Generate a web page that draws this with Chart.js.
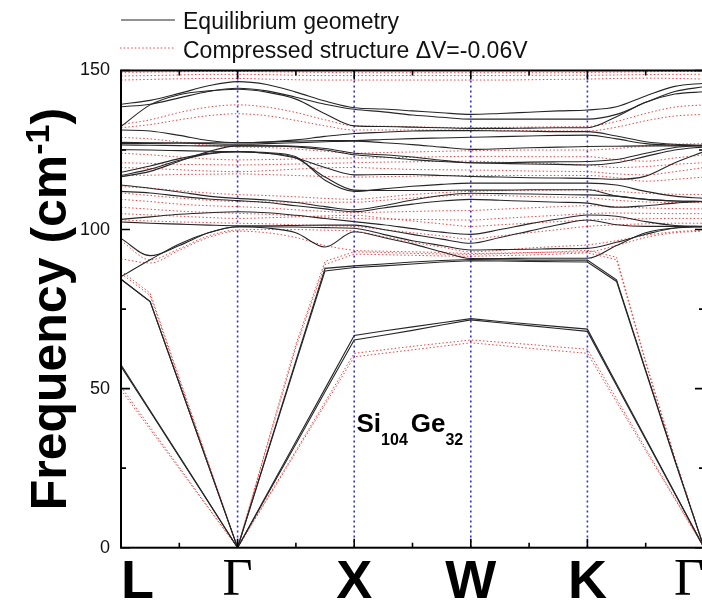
<!DOCTYPE html>
<html>
<head>
<meta charset="utf-8">
<script src="https://cdn.jsdelivr.net/npm/chart.js@4.4.1/dist/chart.umd.min.js"></script>
<style>
  html, body { margin: 0; padding: 0; background: #fff; overflow: hidden; }
  #wrap { width: 712px; height: 603px; }
</style>
</head>
<body>
<div id="wrap"><canvas id="bands" width="712" height="603"></canvas></div>
<script>
// k-path position of every sample (L=0, Γ=1, X=2, W=3, K=4, Γ=5)
const kPath = [0, 0.25, 0.5, 0.75, 1, 1.25, 1.5, 1.75, 2, 2.25, 2.5, 2.75, 3, 3.25, 3.5, 3.75, 4, 4.25, 4.5, 4.75, 5];
const pointLabels = ['L', 'Γ', 'X', 'W', 'K', 'Γ'];
const legendLabels = ['Equilibrium geometry', 'Compressed structure ΔV=-0.06V'];

// equilibrium geometry, optical branches (cm-1)
const eqOptical = [
  [139.4,140.6,142.8,145.2, 146.5,145.6,143.2,140.4, 138.3,137.9,137.3,136.7, 136.2,136.5,136.9,137.3, 137.6,138.6,142,145, 146],
  [138.6,139.4,141.4,143.4, 144.4,143.6,141.6,139.4, 137.8,137,136,135.3, 134.7,134.7,134.7,134.7, 134.7,136.2,140,143.4, 144.9],
  [132.4,139.2,142.4,143.6, 144.1,143.2,141,136.4, 132.6,132.4,132.2,132, 131.8,131.8,131.9,132, 132,135.5,140,142.6, 143.3],
  [131.3,131,129.6,128, 127.3,127.5,128.2,129.3, 130.2,130.6,131,131.1, 131.1,131,130.9,130.8, 130.8,129.4,127.6,126.8, 126.5],
  [127.4,127.3,127.2,127, 126.8,127,127.3,127.6, 127.8,127.3,126.7,125.9, 125.2,125.4,125.7,125.9, 126.1,126.2,126.3,126.3, 126.3],
  [126.6,126.5,126.4,126.3, 126.3,126.3,126.2,125.5, 124,123.5,122.8,121.8, 121,121,121.2,121.3, 121.4,122,124,125.8, 126.6],
  [125.1,125,124.8,124.6, 124.5,124.2,122.9,115.5, 112,112.8,113.6,114.2, 114.6,114.6,114.6,114.6, 114.6,114,112,110.5, 109.8],
  [118,120,122.3,124, 124.5,124,122.5,116.5, 112.4,112.3,112.3,112.3, 112.4,112.4,112.5,112.5, 112.5,110.5,109.5,109, 108.8],
  [116.6,118.3,121.5,124.5, 126.3,126.3,126,125, 123.5,122.8,122,121.4, 121,120.8,120.6,120.5, 120.3,121,123,125, 126],
  [114,113,111.8,110.5, 109.8,109.3,108.5,107.2, 106.2,107.5,109.3,110.7, 111.4,111.3,111.2,111, 110.9,110.5,109.5,109, 108.8],
  [112,111.5,110.5,109.6, 109.1,108.5,107.5,106.5, 105.6,106.8,108,109, 109.5,109.2,108.9,108.6, 108.3,107,107.5,108.3, 108.8],
  [103.2,104,104.8,105.3, 105.6,105.3,104.5,103.5, 102.5,101.5,100.3,99.2, 98.5,100,101.8,103.3, 104.6,104.2,102.5,101.3, 100.9],
  [102.4,102,101.7,101.4, 101.2,101.2,101.3,101.4, 101.4,100,98.5,97, 95.7,97.5,99.5,101.5, 103,101.5,101,101, 101],
  [97.2,91.8,95,99, 100.9,100.9,100.8,100.6, 100.4,98.5,96.5,95, 93.6,93.7,93.8,94, 94.1,96,98.5,100.5, 100.9],
  [85.2,90.5,95.5,99, 100.9,100.5,99,94.5, 99.3,97.5,95.5,93, 90.9,90.9,91,91, 91,95,99,100.5, 101],
  [117,119,121.8,123.8, 124.5,124,122.5,119.5, 117.2,117.3,117.3,117, 116.7,116.5,116.3,116.2, 116.1,115.8,116.8,121, 124.5],
  [127,127.1,127.2,127.3, 127.3,127.5,127.8,128, 128,128.3,128.6,128.8, 129,129.2,129.4,129.6, 129.7,128.5,127,126.5, 126.3]
];

// equilibrium geometry, acoustic branches
const eqAcoustic = [
  [84.4,77.4,51.6,25.8, 0,29.1,58.2,87, 88.1,88.6,89.2,89.8, 90.2,90.1,90,89.9, 89.8,83.7,55.4,27.3, 0],
  [84.4,77.4,51.6,25.8, 0,29.4,58.8,87.8, 88.6,89.2,89.8,90.3, 90.6,90.5,90.4,90.4, 90.4,84.2,55.8,27.6, 0],
  [57.5,43.1,28.8,14.4, 0,16.7,33.4,50, 66.7,68.1,69.4,70.7, 72,71.1,70.3,69.5, 68.7,51.5,34.4,17.2, 0],
  [57,42.8,28.5,14.3, 0,16.3,32.6,49, 65.3,66.8,68.3,70, 71.6,70.7,69.8,68.9, 68,51,34,17, 0]
];

// compressed structure, optical branches
const compOptical = [
  [149.4,149.5,149.6,149.7, 149.7,149.6,149.5,149.4, 149.3,149.3,149.3,149.3, 149.3,149.3,149.3,149.3, 149.4,149.5,149.6,149.7, 149.7],
  [148.3,148.4,148.6,148.8, 148.8,148.7,148.5,148.4, 148.4,148.4,148.4,148.4, 148.4,148.4,148.5,148.5, 148.5,148.6,148.7,148.8, 148.8],
  [147,147.2,147.4,147.5, 147.5,147.3,147.1,147, 147,147,147,147, 147,147,147.1,147.2, 147.3,147.5,147.6,147.5, 147.3],
  [133,134.5,136.8,138.5, 139.2,138.5,136.8,134.5, 132.6,132.5,132.3,132.1, 132,132.1,132.2,132.3, 132.4,134,136.5,138.5, 139.2],
  [132,133,134.5,135.8, 136.4,135.8,134.3,132.6, 131.3,131.3,131.3,131.3, 131.3,131.2,131.1,131, 131,132.2,134.2,135.7, 136.2],
  [129,128.5,127.5,126.5, 126,125.8,125.3,124.6, 124,124.2,124.4,124.6, 124.8,124.9,125,125, 125,125.5,126.2,126.8, 127],
  [124,123.5,122.8,122.2, 121.9,122,122.2,122.4, 122.5,122.6,122.7,122.9, 123,123,122.9,122.9, 122.9,122,121.5,122.5, 123.5],
  [121,120.8,120.5,120.4, 120.3,120.4,120.6,120.8, 121,121.2,121.3,121.4, 121.5,121.2,120.9,120.6, 120.3,119.5,119.8,120.5, 121],
  [119.5,119.2,118.8,118.4, 118.2,118.5,119,119.4, 119.5,119.2,118.9,118.8, 118.7,118.6,118.4,118.3, 118.2,117.5,117.2,118.2, 119.5],
  [117,117.1,117.3,117.4, 117.5,117.3,117,116.7, 116.5,116.6,116.8,116.9, 117,117,117,117, 117,116.3,115.2,115.8, 116.5],
  [113.5,113,112.2,111.5, 111,110.7,110.3,109.8, 109.5,110.2,111,111.6, 112,112.2,112.3,112.4, 112.5,112,111.4,111.1, 111],
  [111.5,110.7,109.9,109.2, 108.8,108.7,108.6,108.6, 108.6,109.2,109.9,110.5, 110.9,110.7,110.4,110.2, 110,109.2,108.7,108.5, 108.5],
  [109.5,108.8,108,107.5, 107.2,106.8,106.2,105.7, 105.3,105.5,105.7,105.9, 106,106.4,106.8,107.2, 107.5,107.2,106.8,106.6, 106.5],
  [107,106.4,105.8,105.4, 105.1,104.8,104.3,103.9, 103.5,103.3,103.2,103.1, 103,103.5,104,104.5, 105,105.2,105.1,105, 105],
  [103,102.7,102.4,102.2, 102,101.8,101.5,101.2, 101,100,99,98, 97,98,99,100, 101,101.5,101.8,102, 102],
  [105,104.6,104.2,103.8, 103.5,103.7,104,104.3, 104.5,103.6,102.7,101.8, 101,101.5,102,102.5, 103,103.3,103.4,103.5, 103.5],
  [96.5,90.5,94,98, 99.9,100,100,99.8, 99.5,97.8,96,94.5, 93,93.5,94.2,94.7, 95.2,96.5,98.2,99.3, 99.8],
  [90.8,89.5,93.5,97.5, 99.5,99,97.5,95, 93.5,93.2,93,92.8, 92.5,92.6,92.8,92.9, 93,95,97.5,99, 99.5]
];

// compressed structure, acoustic branches
const compAcoustic = [
  [87,80,53.3,26.7, 0,32,64,90, 93,92.8,92.5,92.3, 92.2,92.4,92.7,93, 93.5,91.3,58.6,28.3, 0],
  [86.2,79.3,52.9,26.4, 0,31.5,63,89, 92.3,92.1,91.9,91.7, 91.6,91.8,92,92.3, 92.7,90.5,58,28, 0],
  [50.6,37.9,25.3,12.6, 0,15.3,30.5,45.8, 61.1,62.2,63.3,64.3, 65.3,64.6,63.9,63.1, 62.4,46.8,31.2,15.6, 0],
  [49.6,37.2,24.8,12.4, 0,15,30,45, 60,61.1,62.2,63.3, 64.4,63.6,62.7,61.9, 61.1,45.8,30.5,15.3, 0]
];

const sans = "'Liberation Sans', Arial, sans-serif";
const serif = "'Liberation Serif', 'Times New Roman', serif";

function toPoints(values) {
  return values.map((v, i) => ({ x: kPath[i], y: v }));
}

const black = { borderColor: '#262626', borderWidth: 1.1, order: 0 };
const red = { borderColor: 'rgba(240,45,45,0.9)', borderWidth: 1, borderDash: [1.5, 2.2], order: 1 };

const datasets = [];
eqOptical.forEach(b => datasets.push({ label: legendLabels[0], data: toPoints(b), cubicInterpolationMode: 'monotone', ...black }));
eqAcoustic.forEach(b => datasets.push({ label: legendLabels[0], data: toPoints(b), tension: 0, ...black }));
compOptical.forEach(b => datasets.push({ label: legendLabels[1], data: toPoints(b), cubicInterpolationMode: 'monotone', ...red }));
compAcoustic.forEach(b => datasets.push({ label: legendLabels[1], data: toPoints(b), tension: 0, ...red }));

const decorations = {
  id: 'decorations',
  beforeDatasetsDraw(chart) {
    const { ctx, chartArea: a, scales: { x } } = chart;
    ctx.save();
    ctx.strokeStyle = '#2f2fe0';
    ctx.lineWidth = 1.6;
    ctx.setLineDash([2, 3]);
    for (let k = 1; k <= 5; k++) {
      const px = x.getPixelForValue(k);
      ctx.beginPath();
      ctx.moveTo(px, a.top);
      ctx.lineTo(px, a.bottom);
      ctx.stroke();
    }
    ctx.restore();
  },
  afterDraw(chart) {
    const { ctx, chartArea: a, scales: { x, y } } = chart;
    ctx.save();

    // frame
    ctx.strokeStyle = '#000';
    ctx.lineWidth = 2;
    ctx.strokeRect(a.left, a.top, a.right - a.left, a.bottom - a.top);

    // inward ticks
    ctx.lineWidth = 1.6;
    ctx.beginPath();
    for (let k = 0; k <= 5; k += 0.5) {
      const px = x.getPixelForValue(k);
      const len = k % 1 === 0 ? 9 : 5;
      ctx.moveTo(px, a.bottom); ctx.lineTo(px, a.bottom - len);
      ctx.moveTo(px, a.top); ctx.lineTo(px, a.top + len);
    }
    for (let f = 0; f <= 150; f += 25) {
      const py = y.getPixelForValue(f);
      const len = f % 50 === 0 ? 9 : 5;
      ctx.moveTo(a.left, py); ctx.lineTo(a.left + len, py);
      ctx.moveTo(a.right, py); ctx.lineTo(a.right - len, py);
    }
    ctx.stroke();

    // legend
    ctx.lineWidth = 1.1;
    ctx.strokeStyle = '#262626';
    ctx.beginPath(); ctx.moveTo(121, 20); ctx.lineTo(175, 20); ctx.stroke();
    ctx.strokeStyle = 'rgba(240,45,45,0.9)';
    ctx.lineWidth = 1;
    ctx.setLineDash([1.5, 2.2]);
    ctx.beginPath(); ctx.moveTo(120, 48); ctx.lineTo(174, 48); ctx.stroke();
    ctx.setLineDash([]);
    ctx.fillStyle = '#111';
    ctx.font = '23px ' + sans;
    ctx.textBaseline = 'alphabetic';
    ctx.textAlign = 'left';
    ctx.fillText(legendLabels[0], 183, 29);
    ctx.fillText(legendLabels[1], 183, 58);

    // y axis title with superscript
    const big = 'bold 50px ' + sans, sup = 'bold 34px ' + sans;
    const parts = [['Frequency (cm', big, 0], ['-1', sup, -17], [')', big, 0]];
    ctx.font = big;
    let total = 0;
    const widths = parts.map(([t, f]) => { ctx.font = f; const w = ctx.measureText(t).width; total += w; return w; });
    ctx.translate(66, (a.top + a.bottom) / 2);
    ctx.rotate(-Math.PI / 2);
    ctx.fillStyle = '#000';
    let cx = -total / 2;
    parts.forEach(([t, f, dy], i) => { ctx.font = f; ctx.fillText(t, cx, dy); cx += widths[i]; });
    ctx.setTransform(1, 0, 0, 1, 0, 0);

    // compound label Si104Ge32
    let lx = x.getPixelForValue(2.02);
    const ly = y.getPixelForValue(36.5);
    [['Si', '104'], ['Ge', '32']].forEach(([el, n], i) => {
      if (i) lx += 3;
      ctx.font = 'bold 26px ' + sans;
      ctx.fillText(el, lx, ly);
      lx += ctx.measureText(el).width;
      ctx.font = 'bold 16px ' + sans;
      ctx.fillText(n, lx, ly + 13);
      lx += ctx.measureText(n).width;
    });
    ctx.restore();
  }
};

new Chart(document.getElementById('bands'), {
  type: 'line',
  data: { datasets },
  options: {
    responsive: false,
    animation: false,
    events: [],
    layout: { padding: { top: 70.5, right: 8, left: 0, bottom: 0 } },
    elements: { point: { radius: 0 } },
    plugins: { legend: { display: false }, tooltip: { enabled: false } },
    scales: {
      x: {
        type: 'linear', min: 0, max: 5,
        grid: { display: false, drawTicks: false },
        border: { display: false },
        afterFit: s => { s.height = 55.3; },
        ticks: {
          stepSize: 1, autoSkip: false, maxRotation: 0, align: 'inner', padding: 8, color: '#000',
          callback: (v, i) => pointLabels[i],
          font: c => pointLabels[c.index] === 'Γ'
            ? { family: serif, size: 52, weight: 'normal', lineHeight: 1 }
            : { family: sans, size: 54, weight: 'bold', lineHeight: 1 }
        }
      },
      y: {
        min: 0, max: 150,
        grid: { display: false, drawTicks: false },
        border: { display: false },
        afterFit: s => { s.width = 121; },
        ticks: { stepSize: 50, padding: 11, color: '#111', font: { family: sans, size: 18 } }
      }
    }
  },
  plugins: [decorations]
});
</script>
</body>
</html>
